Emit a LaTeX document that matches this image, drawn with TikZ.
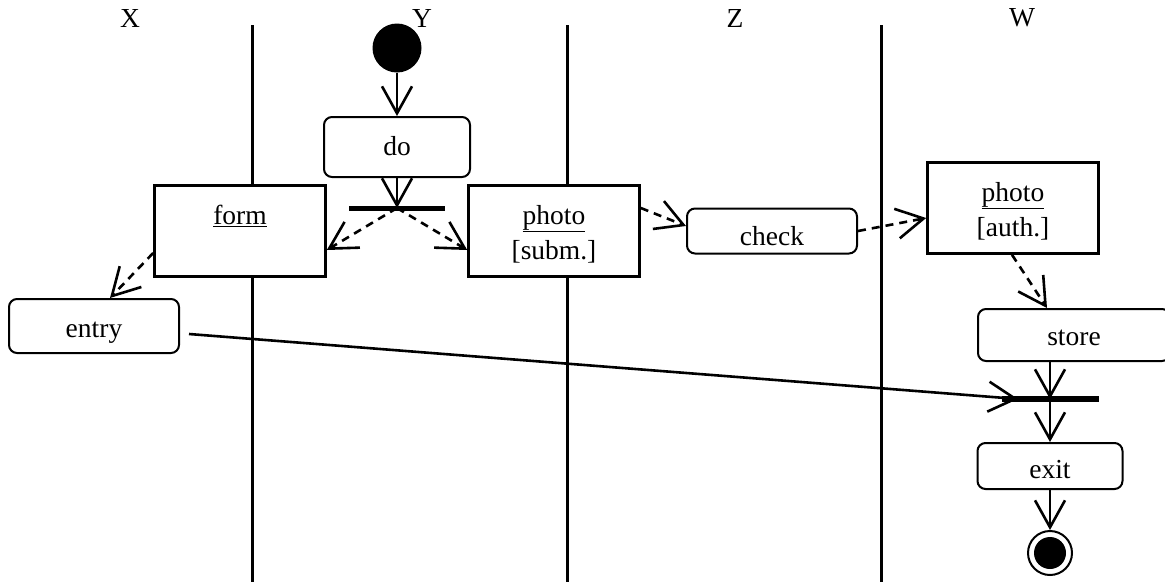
\documentclass[tikz,border=0pt]{standalone}
\usepackage{fontspec}
\setmainfont{Liberation Serif}
\usetikzlibrary{arrows.meta}

\begin{document}
\begin{tikzpicture}[x=1pt,y=-1pt,
  every node/.style={font=\fontsize{27.5}{35}\selectfont},
  act/.style={draw,fill=white,line width=2pt,rounded corners=8pt,minimum width=170pt,minimum height=52pt,inner sep=0pt,text height=22pt,text depth=0pt},
  obj/.style={draw,fill=white,line width=2.6pt,minimum width=171pt,minimum height=91pt,inner sep=0pt},
  objtext/.style={label={[align=center,yshift=-3pt]center:#1}},
  bar/.style={fill,inner sep=0pt,minimum height=5pt},
  flow/.style={line width=2.6pt,-{Straight Barb[length=27pt,width=30pt]}},
  objflow/.style={flow,dash pattern=on 8pt off 6pt},
  lane/.style={line width=3pt}]
\clip (0,0) rectangle (1165,582);
% swimlanes
\foreach \x in {252,567,881} \draw[lane] (\x,25) -- (\x,582);
\node (laneX) at (130,18) {X};
\node (laneY) at (422,18) {Y};
\node (laneZ) at (735,18) {Z};
\node (laneW) at (1022,18) {W};
% actions and objects
\node[circle,fill,minimum size=49pt,inner sep=0pt] (start) at (397,48) {};
\node[act,minimum width=146pt,minimum height=60pt,text height=16pt] (do) at (397,147) {do};
\node[bar,minimum width=96pt] (fork) at (397,208) {};
\node[obj,objtext={\underline{form}\\[-8pt]\strut}] (form) at (240,231) {};
\node[obj,objtext={\underline{photo}\\{[subm.]}}] (subm) at (554,231) {};
\node[act,minimum height=45pt,text height=28pt] (check) at (772,231) {check};
\node[obj,objtext={\underline{photo}\\{[auth.]}}] (auth) at (1013,208) {};
\node[act,minimum width=192pt,text height=20pt] (store) at (1074,335) {store};
\node[bar,minimum width=97pt,minimum height=5.5pt] (join) at (1050,399) {};
\node[act,minimum height=54pt] (entry) at (94,326) {entry};
\node[act,minimum width=145pt,minimum height=46pt,text height=24pt] (exit) at (1050,466) {exit};
\node[circle,draw,fill=white,line width=2pt,minimum size=44pt,inner sep=0pt] (final) at (1050,553) {};
\node[circle,fill,minimum size=32pt,inner sep=0pt] (finalDot) at (final) {};
% flows
\draw[flow] (start) -- (do);
\draw[flow] (do) -- (fork.center);
\draw[objflow] (fork.center) -- ([yshift=-19pt]form.east);
\draw[objflow] (fork.center) -- ([yshift=-19pt]subm.west);
\draw[objflow] ([yshift=23pt]subm.east) -- ([yshift=5pt]check.west);
\draw[objflow] (check.east) -- ([yshift=-10pt]auth.west);
\draw[objflow] ([xshift=-1pt]auth.south) -- ([xshift=-27pt]store.north);
\draw[objflow] ([yshift=-22pt]form.west) -- ([xshift=16pt]entry.north);
\draw[flow] (join |- store.south) -- (join.center);
\draw[flow] ([xshift=9pt,yshift=-8pt]entry.east) -- ([xshift=-32pt]join.center);
\draw[flow] (join.center) -- (exit);
\draw[flow] (exit) -- (final);
\end{tikzpicture}
\end{document}
